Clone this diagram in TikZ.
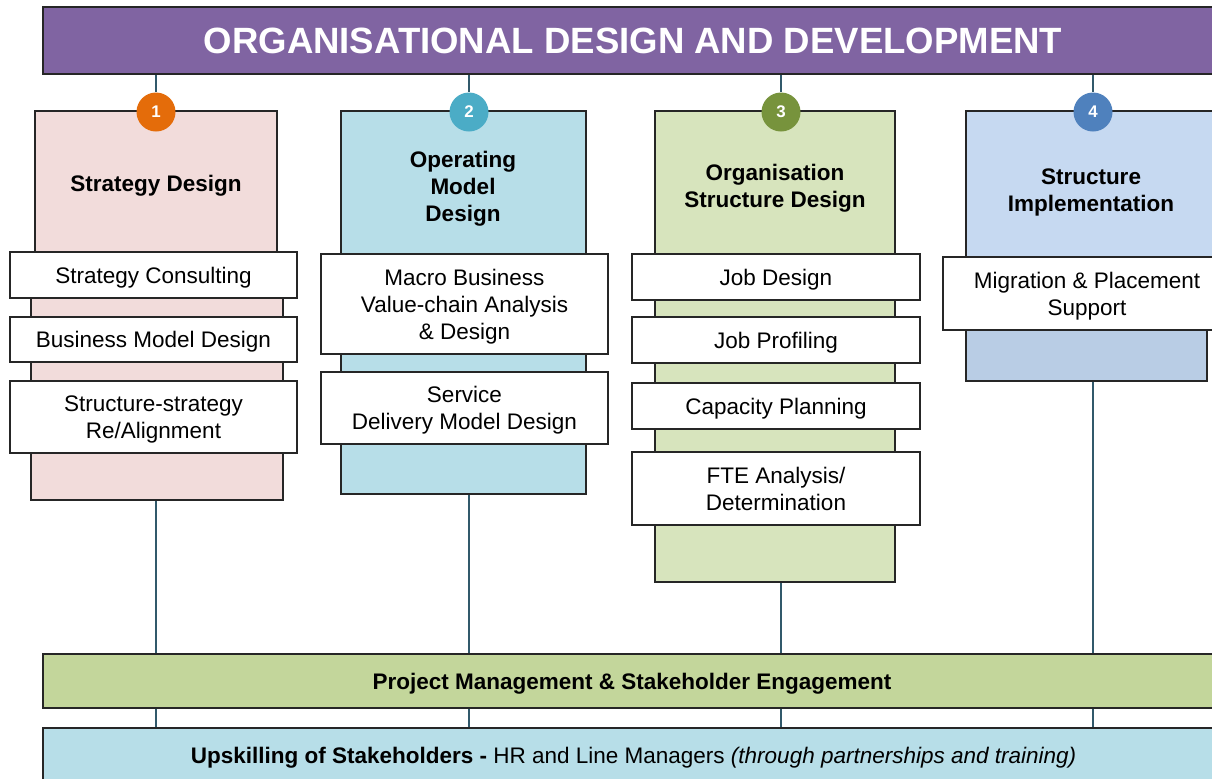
\documentclass[tikz,border=0pt]{standalone}
\usepackage{fontspec}
\setmainfont{Liberation Sans}
\usepackage{tikz}

\definecolor{banner}{HTML}{8064A2}
\definecolor{numA}{HTML}{E46C0A}
\definecolor{numB}{HTML}{4BACC6}
\definecolor{numC}{HTML}{77933C}
\definecolor{numD}{HTML}{4F81BD}
\definecolor{pinkf}{HTML}{F2DCDB}
\definecolor{bluef}{HTML}{B7DEE8}
\definecolor{greenf}{HTML}{D7E4BD}
\definecolor{skyf}{HTML}{C6D9F1}
\definecolor{skyb}{HTML}{B9CDE5}
\definecolor{pmf}{HTML}{C3D69B}
\definecolor{edge}{HTML}{262626}
\definecolor{linkc}{RGB}{49,89,107}

\newlength\pxu
\setlength\pxu{0.025cm}

\begin{document}
\begin{tikzpicture}[x=0.025cm, y=-0.025cm, line width=1.2pt,
                    every node/.style={font=\fontsize{16}{19.2}\selectfont, align=center, inner sep=0pt, text depth=0pt},
                    frame/.style={draw=edge, rectangle},
                    item/.style={frame, fill=white, minimum width=288\pxu},
                    head/.style={font=\fontsize{16}{19.2}\selectfont\bfseries},
                    num/.style={circle, minimum size=39\pxu, text=white, font=\fontsize{12}{14}\selectfont\bfseries},
                    link/.style={draw=linkc, line width=1.3pt}]

  \useasboundingbox (0,0) rectangle (1212,778);

  % banner
  \node[frame, fill=banner, minimum width=1180\pxu, minimum height=67\pxu, text=white,
        font=\fontsize{26}{31}\selectfont\bfseries] (title) at (633,40.5) {ORGANISATIONAL DESIGN AND DEVELOPMENT};

  % column bodies and heads
  \node[frame, fill=pinkf, minimum width=252\pxu, minimum height=225\pxu] (b1) at (157,387.5) {};
  \node[frame, fill=bluef, minimum width=245\pxu, minimum height=219\pxu] (b2) at (463.5,384.5) {};
  \node[frame, fill=greenf, minimum width=240\pxu, minimum height=307\pxu] (b3) at (775,428.5) {};
  \node[frame, fill=skyb, minimum width=241\pxu, minimum height=91\pxu] (b4) at (1086.5,335.5) {};

  \node[frame, fill=pinkf, minimum width=242\pxu, minimum height=164\pxu] (h1) at (156,193) {};
  \node[frame, fill=bluef, minimum width=245\pxu, minimum height=164\pxu] (h2) at (463.5,193) {};
  \node[frame, fill=greenf, minimum width=240\pxu, minimum height=164\pxu] (h3) at (775,193) {};
  \node[frame, fill=skyf, minimum width=248\pxu, minimum height=179\pxu] (h4) at (1090,200.5) {};

  \node[head] at (156,183) {Strategy Design};
  \node[head] at (463,186) {Operating\\Model\\Design};
  \node[head] at (775,186) {Organisation\\Structure Design};
  \node[head] at (1091,190.5) {Structure\\Implementation};

  % service items
  \node[item, minimum width=287\pxu, minimum height=46\pxu] (i11) at (153.5,275) {Strategy Consulting};
  \node[item, minimum width=287\pxu, minimum height=45\pxu] (i12) at (153.5,339.5) {Business Model Design};
  \node[item, minimum width=287\pxu, minimum height=72\pxu] (i13) at (153.5,417) {Structure-strategy\\Re/Alignment};

  \node[item, minimum width=287\pxu, minimum height=100\pxu] (i21) at (464.5,304) {Macro Business\\Value-chain Analysis\\\& Design};
  \node[item, minimum width=287\pxu, minimum height=72\pxu] (i22) at (464.5,408) {Service\\Delivery Model Design};

  \node[item, minimum height=46\pxu] (i31) at (776,277) {Job Design};
  \node[item, minimum height=46\pxu] (i32) at (776,340) {Job Profiling};
  \node[item, minimum height=46\pxu] (i33) at (776,406) {Capacity Planning};
  \node[item, minimum height=73\pxu] (i34) at (776,488.5) {FTE Analysis/\\Determination};

  \node[item, minimum height=73\pxu] (i41) at (1087,293.5) {Migration \& Placement\\Support};

  % bottom bars
  \node[frame, fill=pmf, line width=1.6pt, minimum width=1178\pxu, minimum height=54\pxu,
        font=\fontsize{16}{19.2}\selectfont\bfseries] (pm) at (632,681) {Project Management \& Stakeholder Engagement};
  \node[frame, fill=bluef, minimum width=1181\pxu, minimum height=54\pxu] (up) at (633.5,755)
        {\textbf{Upskilling of Stakeholders -} HR and Line Managers \textit{(through partnerships and training)}};

  % numbered circles
  \foreach \n/\x/\c in {1/156/numA, 2/469/numB, 3/781/numC, 4/1093/numD}
    \node[num, fill=\c] (\n) at (\x,112) {\n};

  % connectors
  \foreach \n in {1,...,4} {
    \draw[link] (\n.north) -- (\n |- title.south);
    \draw[link] (\n |- b\n.south) -- (\n |- pm.north);
    \draw[link] (\n |- pm.south) -- (\n |- up.north);
  }
\end{tikzpicture}
\end{document}
